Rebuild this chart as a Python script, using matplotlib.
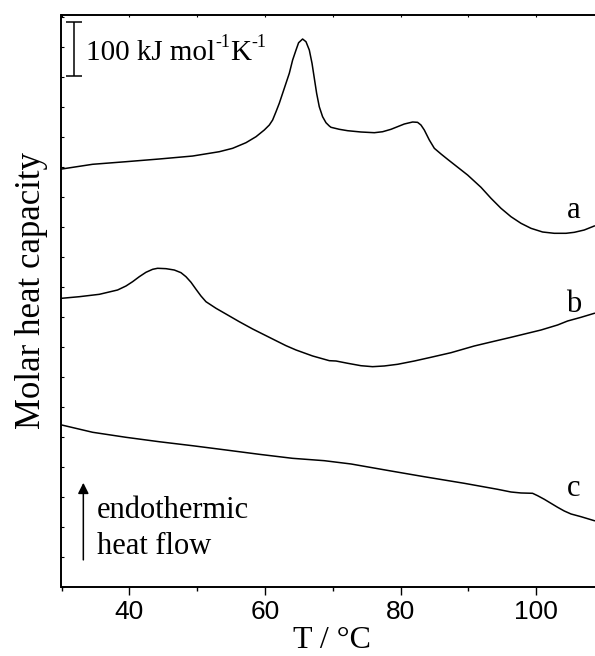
import numpy as np
import matplotlib.pyplot as plt
from matplotlib.ticker import MultipleLocator

# DSC curves (T in degC, molar heat capacity in kJ/mol/K, arbitrary offsets)
T_a = [30.0, 34.59, 39.51, 44.42, 49.34, 53.27, 55.24, 57.21, 58.69, 59.91, 60.65,
       61.14, 61.64, 62.12, 62.86, 63.60, 64.09, 64.59, 64.97, 65.56, 66.06, 66.55,
       66.95, 67.29, 67.63, 68.02, 68.51, 69.01, 69.50, 69.75, 70.97, 72.20, 74.17,
       76.14, 77.36, 78.60, 80.56, 81.79, 82.52, 83.02, 83.51, 84.25, 84.99, 85.98,
       86.95, 89.90, 91.87, 93.35, 94.82, 96.30, 97.77, 99.25, 100.96, 102.68,
       104.41, 105.63, 107.10, 108.58]
cp_a = [773.1, 781.9, 786.7, 791.7, 797.2, 805.2, 811.5, 821.9, 833.0, 845.4, 854.6,
        863.9, 879.3, 894.8, 922.6, 950.4, 975.0, 993.5, 1007.0, 1013.9, 1008.9, 993.5,
        968.9, 941.1, 913.4, 888.5, 870.0, 858.9, 852.8, 850.4, 846.7, 844.1, 841.7,
        840.4, 842.2, 846.7, 856.5, 860.2, 859.6, 854.6, 845.4, 826.9, 811.5, 800.9,
        791.1, 762.0, 739.3, 718.9, 700.4, 684.8, 672.6, 663.3, 656.5, 654.1,
        654.1, 655.9, 660.2, 667.6]

T_b = [30.0, 32.63, 35.58, 38.27, 39.51, 40.49, 41.47, 42.46, 43.44, 44.17, 45.41,
       46.64, 47.62, 48.36, 49.10, 49.84, 50.57, 51.31, 52.79, 54.26, 56.22, 58.19,
       60.16, 61.64, 63.11, 64.59, 67.04, 69.50, 70.49, 72.20, 74.17, 75.88, 77.61,
       79.57, 82.04, 84.50, 87.45, 90.88, 93.35, 96.30, 100.72, 103.17, 104.65,
       106.62, 108.58]
cp_b = [533.7, 536.7, 541.1, 549.1, 556.5, 564.5, 573.7, 581.9, 587.4, 589.3, 588.6,
        586.1, 581.2, 573.7, 563.4, 550.4, 538.0, 527.4, 515.2, 504.6, 490.4, 476.9,
        464.5, 455.2, 446.0, 438.0, 426.9, 418.2, 417.6, 413.4, 408.9, 407.1, 408.4,
        411.5, 417.6, 424.5, 433.0, 445.4, 452.8, 461.5, 475.0, 484.3, 491.7,
        498.5, 505.9]

T_c = [30.03, 34.59, 39.51, 44.42, 49.34, 54.26, 59.17, 64.06, 68.76, 72.70, 78.60,
       83.51, 89.41, 94.32, 96.30, 97.77, 99.48, 100.22, 101.21, 102.19, 103.17,
       104.16, 105.15, 106.62, 108.58]
cp_c = [299.1, 285.6, 276.3, 268.1, 260.7, 252.8, 244.8, 237.4, 233.0, 226.9, 213.9,
        203.3, 191.1, 180.0, 175.0, 173.2, 172.6, 168.2, 161.5, 154.1, 146.7,
        139.8, 134.3, 129.3, 121.9]

curve_labels = ['a', 'b', 'c']
label_T = 105.6
label_cp = [681.9, 508.9, 168.2]

serif = 'Liberation Serif'

fig = plt.figure(figsize=(5.95, 6.56), dpi=100)
ax = fig.add_axes([61.5/595, 69.5/656, 542.4/595, 572.0/656])

for T, cp in [(T_a, cp_a), (T_b, cp_b), (T_c, cp_c)]:
    ax.plot(T, cp, color='k', lw=1.1)

for lab, y in zip(curve_labels, label_cp):
    ax.text(label_T, y, lab, ha='center', va='baseline', fontsize=22, family=serif)

# scale bar
ax.errorbar([31.78], [996.0], yerr=50, color='k', lw=1.1, capsize=6, capthick=1.1)
t1 = ax.text(33.6, 975.0, '100 kJ mol', fontsize=21, family=serif,
             va='baseline', ha='left')
t2 = ax.annotate('-1', xy=(1.0, 0.58), xycoords=t1, fontsize=13, family=serif,
                 va='bottom', ha='left')
t3 = ax.annotate('K', xy=(1.0, 0.0), xycoords=(t2, t1), fontsize=21, family=serif,
                 va='bottom', ha='left')
ax.annotate('-1', xy=(1.0, 0.58), xycoords=t3, fontsize=13, family=serif,
            va='bottom', ha='left')

# endothermic arrow
ax.annotate('', xy=(33.22, 197.2), xytext=(33.22, 44.1),
            arrowprops=dict(arrowstyle='-|>', color='k', lw=1.1, mutation_scale=16))
ax.text(35.18, 126.3, 'endothermic', fontsize=22, family=serif,
        va='baseline', ha='left')
ax.text(35.18, 60.2, 'heat flow', fontsize=22, family=serif,
        va='baseline', ha='left')

ax.set_xlim(30, 110)
ax.set_ylim(0, 1059.3)
ax.xaxis.set_minor_locator(MultipleLocator(10))
ax.set_xticks([40, 60, 80, 100])
ax.yaxis.set_major_locator(MultipleLocator(55.5))
ax.set_yticklabels([])
ax.tick_params(axis='x', which='major', direction='out', length=5.5, width=1.0,
               labelsize=19, pad=4)
ax.tick_params(axis='x', which='minor', direction='out', length=3, width=1.0)
ax.tick_params(axis='y', which='major', direction='in', length=2.5, width=0.8)
for lab in ax.get_xticklabels():
    lab.set_family('Liberation Sans')

# inner ticks along the top spine
top = ax.secondary_xaxis('top')
top.xaxis.set_major_locator(MultipleLocator(10))
top.tick_params(direction='in', length=2, width=0.8, labeltop=False)
top.spines['top'].set_visible(False)

for s in ['left', 'bottom', 'top']:
    ax.spines[s].set_linewidth(1.4)
ax.spines['right'].set_visible(False)

fig.text(332/595, 8/656, 'T / \u00b0C', fontsize=23, family=serif,
         ha='center', va='baseline')
fig.text(32/595, 1 - 290/656, 'Molar heat capacity', rotation=90, fontsize=25,
         family=serif, ha='center', va='center')

plt.savefig('out.png', dpi=100)
